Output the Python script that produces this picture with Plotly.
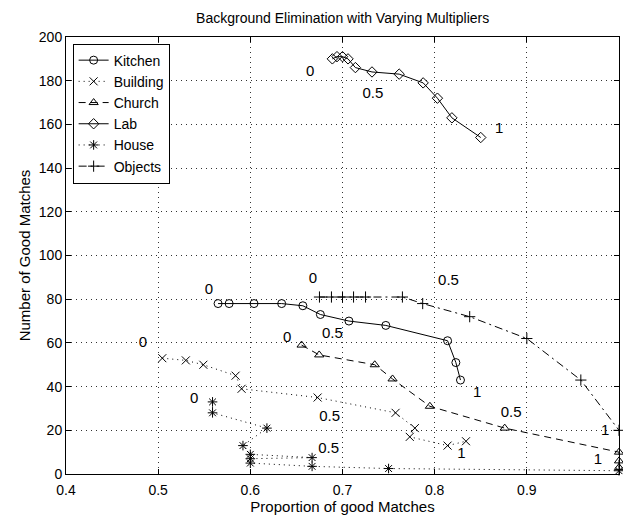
import plotly.graph_objects as go

# ---- data ----
kitchen_x = [0.565, 0.577, 0.604, 0.634, 0.657, 0.676, 0.707, 0.747, 0.814, 0.823, 0.828]
kitchen_y = [78, 78, 78, 78, 77, 73, 70, 68, 61, 51, 43]

building_x = [0.5045, 0.530, 0.549, 0.584, 0.5905, 0.673, 0.7576, 0.7785, 0.773, 0.814, 0.834]
building_y = [53, 52, 50, 45, 39, 35, 28, 21, 17, 13, 15]

church_x = [0.6556, 0.6747, 0.735, 0.7543, 0.7948, 0.876, 1.0, 1.0, 1.0]
church_y = [59, 54.5, 50, 43.5, 31, 21, 10, 6, 3]

lab_x = [0.689, 0.694, 0.700, 0.706, 0.714, 0.732, 0.7615, 0.7875, 0.803, 0.8187, 0.850]
lab_y = [190, 191, 191, 190, 186, 184, 183, 179, 172, 163, 154]

house_x = [0.559, 0.559, 0.618, 0.592, 0.600, 0.667, 0.600, 0.600, 0.667, 0.750, 1.0]
house_y = [33, 28, 21, 13, 9, 7.5, 7, 5, 3.5, 2.5, 1.5]

objects_x = [0.675, 0.688, 0.700, 0.712, 0.725, 0.765, 0.787, 0.838, 0.900, 0.9586, 1.0]
objects_y = [81, 81, 81, 81, 81, 81, 78, 72, 62, 43, 20]

label_text = ["0", "0", "0", "0", "0", "0",
              "0.5", "0.5", "0.5", "0.5", "0.5", "0.5",
              "1", "1", "1", "1", "1"]
label_x = [0.665, 0.555, 0.668, 0.640, 0.4835, 0.539,
           0.733, 0.689, 0.815, 0.883, 0.686, 0.685,
           0.870, 0.846, 0.829, 0.985, 0.977]
label_y = [184, 84, 89, 62, 60, 34,
           174, 64, 88, 28, 26, 11.5,
           158, 37, 9, 19.5, 6.5]

x_ticks = [0.4, 0.5, 0.6, 0.7, 0.8, 0.9, 1.0]
x_ticktext = ["0.4", "0.5", "0.6", "0.7", "0.8", "0.9", "1"]
y_ticks = [0, 20, 40, 60, 80, 100, 120, 140, 160, 180, 200]

FONT = "Liberation Sans, Arial, sans-serif"

series = [
    ("Kitchen", kitchen_x, kitchen_y, "solid", "circle-open"),
    ("Building", building_x, building_y, "1px,4px", "x-thin-open"),
    ("Church", church_x, church_y, "7px,5px", "triangle-up-open"),
    ("Lab", lab_x, lab_y, "solid", "diamond-open"),
    ("House", house_x, house_y, "1px,4px", "asterisk-open"),
    ("Objects", objects_x, objects_y, "8px,4px,2px,4px", "cross-thin-open"),
]

fig = go.Figure()
for name, xs, ys, dash, sym in series:
    fig.add_trace(go.Scatter(
        x=xs, y=ys, name=name, mode="lines+markers",
        line=dict(color="black", width=1, dash=dash),
        marker=dict(symbol=sym, size=8, color="black",
                    line=dict(color="black", width=1)),
        cliponaxis=False,
    ))

fig.add_trace(go.Scatter(
    x=label_x, y=label_y, text=label_text, mode="text",
    textfont=dict(family=FONT, size=15, color="black"),
    showlegend=False, cliponaxis=False,
))

axis_common = dict(
    showline=True, linecolor="black", linewidth=1, mirror="allticks",
    ticks="inside", ticklen=5, tickcolor="black",
    showgrid=True, gridcolor="#333333", griddash="1px,4px", gridwidth=1,
    zeroline=False,
    tickfont=dict(family=FONT, size=14, color="black"),
)

fig.update_layout(
    width=623, height=518,
    margin=dict(l=66, r=4, t=37, b=44),
    paper_bgcolor="white", plot_bgcolor="white",
    title=dict(text="Background Elimination with Varying Multipliers",
               x=0.55, xanchor="center", y=0.965, yanchor="middle",
               font=dict(family=FONT, size=14, color="black")),
    xaxis=dict(range=[0.4, 1.0], tickvals=x_ticks, ticktext=x_ticktext,
               ticklabelstandoff=3,
               title=dict(text="Proportion of good Matches", standoff=0,
                          font=dict(family=FONT, size=15, color="black")),
               **axis_common),
    yaxis=dict(range=[0, 200], tickvals=y_ticks,
               title=dict(text="Number of Good Matches", standoff=4,
                          font=dict(family=FONT, size=15, color="black")),
               **axis_common),
    legend=dict(x=0.012, y=0.985, xanchor="left", yanchor="top",
                bgcolor="white", bordercolor="black", borderwidth=1,
                font=dict(family=FONT, size=14, color="black"),
                tracegroupgap=0, itemwidth=30),
    showlegend=True,
)

fig.write_html("out.html")
